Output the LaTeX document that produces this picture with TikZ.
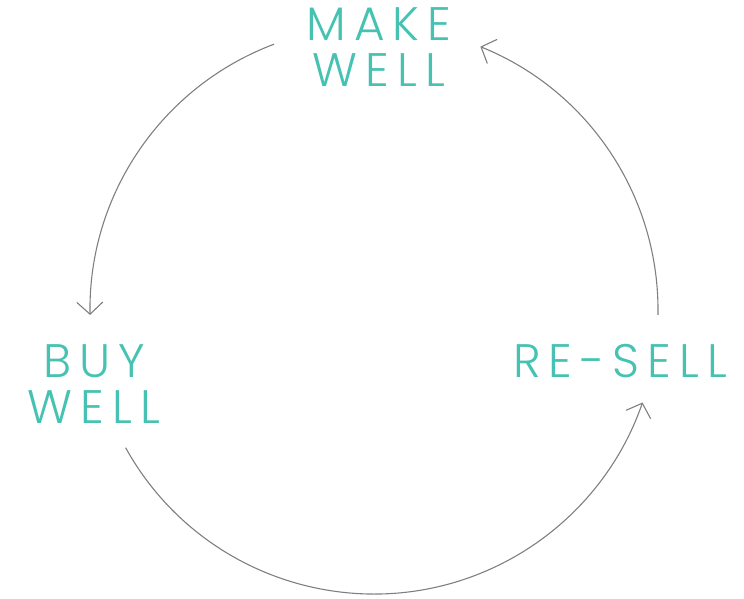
\documentclass[tikz,border=0pt]{standalone}
\usepackage{fontspec}
\usepackage{tikz}
\usetikzlibrary{arrows.meta,positioning,calc}
\newfontfamily\cyclefont[LetterSpace=17]{Poppins Light}
\definecolor{cycleteal}{HTML}{45C2B1}
\definecolor{cyclegray}{HTML}{7F7F7F}
\tikzset{
  >={Straight Barb[length=12pt,width=26pt]},
  % etiketter
  lbl/.style={text=cycleteal,font=\cyclefont\fontsize{47}{46}\selectfont,
              align=center,inner sep=0pt},
  % bågar
  cyc/.style={->,draw=cyclegray,line width=1.1pt},
}
\begin{document}
\begin{tikzpicture}[x=1pt,y=1pt]
  \useasboundingbox (0,0) rectangle (744,598);
  \coordinate (ctr) at (374,288);
  \node[lbl] (make) at (379,551) {MAKE\\WELL};
  \node[lbl] (buy) at (94,214) {BUY\\WELL};
  \node[lbl] (resell) at (620,237) {RE-SELL};
  \coordinate (makeout) at ($(ctr)+(110.6:284)$);
  \coordinate (buyout) at ($(ctr)+(209:284)$);
  \coordinate (resellout) at ($(ctr)+(359:284)$);
  \draw[cyc] (makeout) arc[start angle=110.6,end angle=181,radius=284];
  \draw[cyc] (buyout) arc[start angle=209,end angle=341,radius=284];
  \draw[cyc] (resellout) arc[start angle=359,end angle=428,radius=284];
\end{tikzpicture}
\end{document}
